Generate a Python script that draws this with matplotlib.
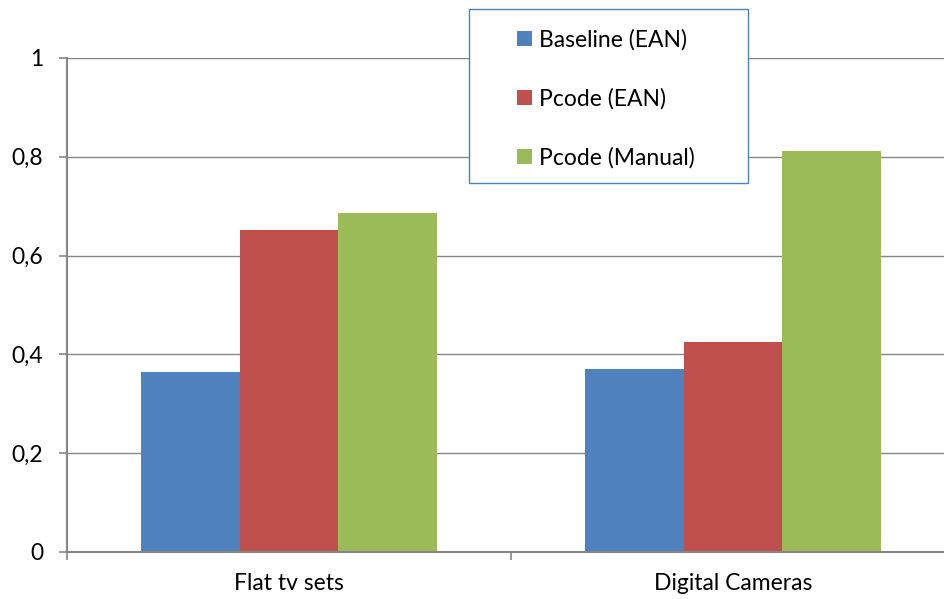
import numpy as np
import matplotlib
matplotlib.use("Agg")
import matplotlib.pyplot as plt
from matplotlib.patches import Rectangle
from matplotlib.ticker import FixedLocator, FuncFormatter

categories = ["Flat tv sets", "Digital Cameras"]
series_names = ["Baseline (EAN)", "Pcode (EAN)", "Pcode (Manual)"]
baseline_ean = [0.364, 0.370]
pcode_ean = [0.652, 0.426]
pcode_manual = [0.687, 0.811]
colors = ["#4F81BD", "#C0504D", "#9BBB59"]
y_ticks = [0, 0.2, 0.4, 0.6, 0.8, 1.0]

plt.rcParams["font.family"] = ["Lato", "DejaVu Sans"]
AXIS_GRAY = "#868686"
FONT_SIZE = 16.5

fig = plt.figure(figsize=(9.45, 5.99), dpi=100)
ax = fig.add_axes([67 / 945, 1 - 552 / 599, 888 / 945, 494 / 599])

x = np.arange(len(categories))
width = 0.222
for i, (vals, name, col) in enumerate(zip([baseline_ean, pcode_ean, pcode_manual], series_names, colors)):
    ax.bar(x + (i - 1) * width, vals, width, color=col, label=name, zorder=2, linewidth=0)

ax.set_xlim(-0.5, 1.5)
ax.set_ylim(0, 1)

ax.yaxis.set_major_locator(FixedLocator(y_ticks))
ax.yaxis.set_major_formatter(FuncFormatter(lambda v, p: "0" if v == 0 else ("1" if v == 1 else f"{v:.1f}".replace(".", ","))))
ax.grid(axis="y", color=AXIS_GRAY, linewidth=1.0, zorder=0)
ax.set_axisbelow(True)

ax.set_xticks(x)
ax.set_xticklabels(categories)
ax.set_xticks([-0.5, 0.5, 1.5], minor=True)
ax.tick_params(axis="x", which="major", length=0, pad=15, labelsize=FONT_SIZE)
ax.tick_params(axis="x", which="minor", length=6, width=1.2, color=AXIS_GRAY, direction="out")
ax.tick_params(axis="y", length=6, width=1.2, color=AXIS_GRAY, pad=11, labelsize=FONT_SIZE)

for side in ["top", "right"]:
    ax.spines[side].set_visible(False)
for side in ["left", "bottom"]:
    ax.spines[side].set_color(AXIS_GRAY)
    ax.spines[side].set_linewidth(1.5)

# legend box drawn over the plot area
fig.patches.append(Rectangle((469 / 945, 1 - 183 / 599), 279 / 945, 174 / 599,
                             transform=fig.transFigure, facecolor="white",
                             edgecolor="#4F81BD", linewidth=1.0, zorder=3))
handles, labels = ax.get_legend_handles_labels()
leg = fig.legend(handles, labels, loc="upper left", bbox_to_anchor=(517 / 945, 1 - 29 / 599),
                 frameon=False, fontsize=FONT_SIZE, labelspacing=1.63, handlelength=0.65,
                 handleheight=0.65, handletextpad=0.3, borderpad=0, borderaxespad=0)
leg.set_zorder(4)

fig.savefig("out.png", dpi=100)
